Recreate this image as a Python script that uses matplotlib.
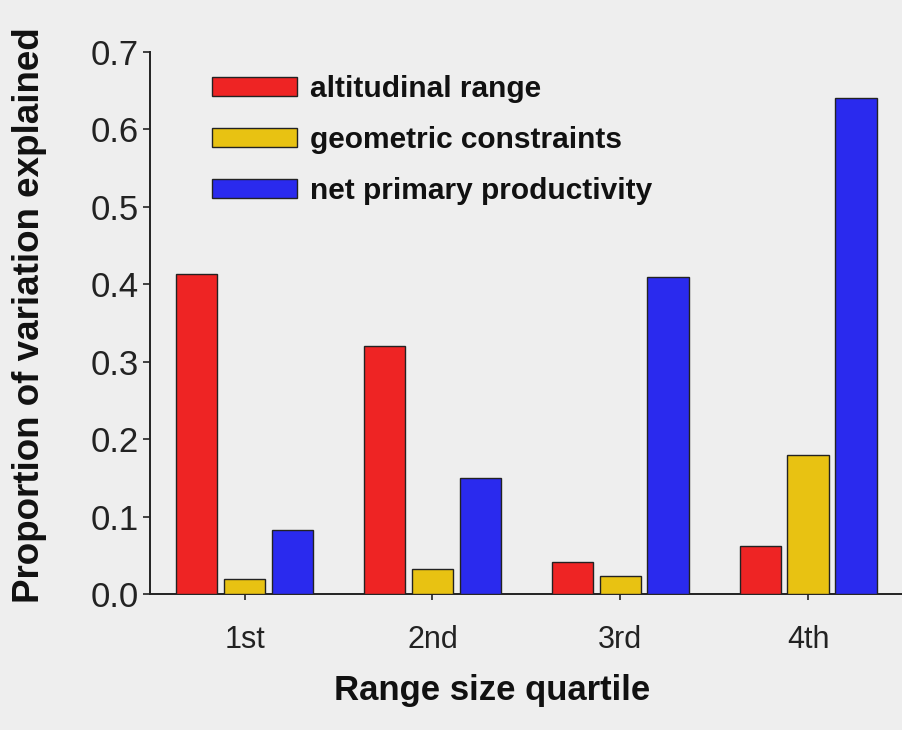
import matplotlib
matplotlib.use("Agg")
import matplotlib.pyplot as plt
import numpy as np

categories = ["1st", "2nd", "3rd", "4th"]
series_names = ["altitudinal range", "geometric constraints", "net primary productivity"]
altitudinal = [0.413, 0.320, 0.041, 0.062]
geometric = [0.019, 0.032, 0.024, 0.180]
npp = [0.083, 0.150, 0.410, 0.640]
colors = ["#EE2424", "#E8C212", "#2A2AEE"]
yticks = [0.0, 0.1, 0.2, 0.3, 0.4, 0.5, 0.6, 0.7]

plt.rcParams['font.family'] = ['Liberation Sans', 'DejaVu Sans']

fig = plt.figure(figsize=(9.02, 7.30), dpi=100, facecolor="#EEEEEE")
ax = fig.add_axes([0.166, 0.186, 0.834, 0.743])
ax.set_facecolor("#EEEEEE")

x = np.arange(len(categories))
w = 0.22
step = 0.255
for i, (vals, name, c) in enumerate(zip([altitudinal, geometric, npp], series_names, colors)):
    ax.bar(x + (i - 1) * step, vals, width=w, color=c, edgecolor="#222222",
           linewidth=1.0, label=name, zorder=3)

ax.set_xlim(-0.505, 3.5)
ax.set_ylim(0, 0.7)
ax.set_yticks(yticks)
ax.set_yticklabels([f"{t:.1f}" for t in yticks])
ax.set_xticks(x)
ax.set_xticklabels(categories)
ax.tick_params(axis='y', labelsize=25, length=5, width=1.2, direction='out', pad=3,
               colors="#222222")
ax.tick_params(axis='x', labelsize=22, length=4, width=1.2, direction='out', pad=18,
               colors="#222222")
for s in ["top", "right"]:
    ax.spines[s].set_visible(False)
for s in ["left", "bottom"]:
    ax.spines[s].set_linewidth(1.4)
    ax.spines[s].set_color("#222222")

ax.set_ylabel("Proportion of variation explained", fontsize=26.5, fontweight='bold',
              color="#111111")
ax.yaxis.set_label_coords(-(150 - 30) / 752, (594 - 315) / 542)
ax.set_xlabel("Range size quartile", fontsize=25, fontweight='bold', color="#111111")
ax.xaxis.set_label_coords((492 - 150) / 752, -(690 - 594) / 542)
ax.xaxis.label.set_va('center')
ax.yaxis.label.set_va('center')

leg = ax.legend(loc='upper left', bbox_to_anchor=(0.0824, 0.957), frameon=False,
                prop={'weight': 'bold', 'size': 21.5}, handlelength=2.85, handleheight=0.57,
                labelspacing=0.77, handletextpad=0.45, borderpad=0, borderaxespad=0)
for t in leg.get_texts():
    t.set_color("#111111")

fig.savefig("out.png", dpi=100, facecolor=fig.get_facecolor())
